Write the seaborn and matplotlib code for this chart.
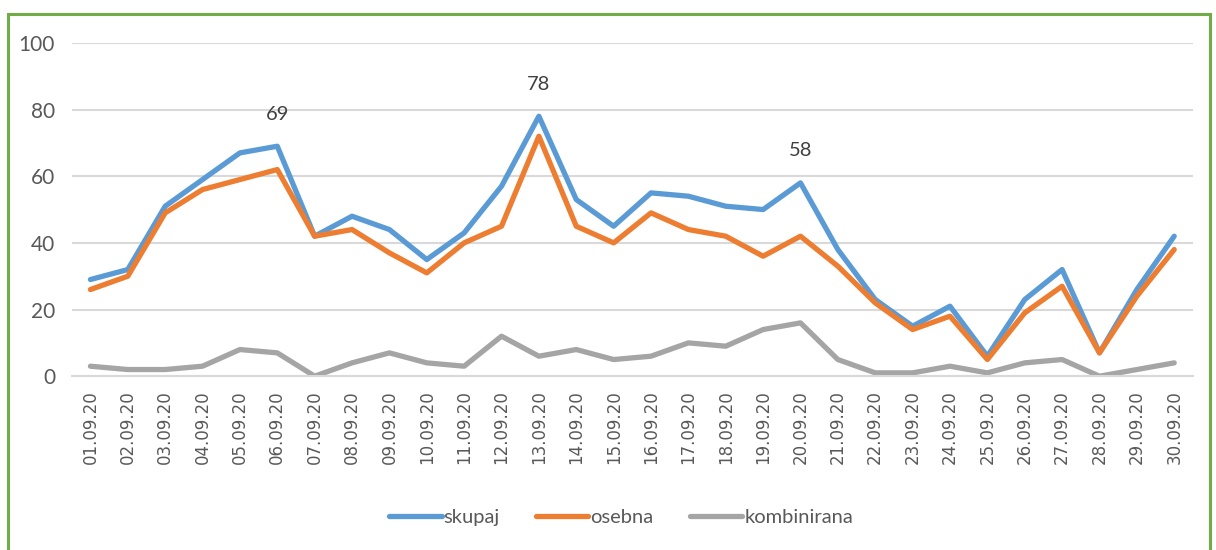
import matplotlib.pyplot as plt
import seaborn as sns
import pandas as pd
import numpy as np
from matplotlib.patches import Rectangle

# values (September 2020)
dates = [f"{d:02d}.09.20" for d in range(1, 31)]
skupaj = [29, 32, 51, 59, 67, 69, 42, 48, 44, 35, 43, 57, 78, 53, 45,
          55, 54, 51, 50, 58, 38, 23, 15, 21, 6, 23, 32, 7, 26, 42]
osebna = [26, 30, 49, 56, 59, 62, 42, 44, 37, 31, 40, 45, 72, 45, 40,
          49, 44, 42, 36, 42, 33, 22, 14, 18, 5, 19, 27, 7, 24, 38]
kombinirana = [3, 2, 2, 3, 8, 7, 0, 4, 7, 4, 3, 12, 6, 8, 5,
               6, 10, 9, 14, 16, 5, 1, 1, 3, 1, 4, 5, 0, 2, 4]
labelled = ["06.09.20", "13.09.20", "20.09.20"]

series = {"skupaj": skupaj, "osebna": osebna, "kombinirana": kombinirana}
colors = {"skupaj": "#5B9BD5", "osebna": "#ED7D31", "kombinirana": "#A5A5A5"}

df = pd.DataFrame({"datum": dates, **series})
long_df = df.melt(id_vars="datum", var_name="vrsta", value_name="stevilo")

sns.set_style("white")
plt.rcParams["font.family"] = ["Lato", "DejaVu Sans"]

fig = plt.figure(figsize=(12.16, 5.5), dpi=100)
ax = fig.add_axes([0.059, 0.316, 0.922, 0.606])

sns.lineplot(data=long_df, x="datum", y="stevilo", hue="vrsta",
             palette=colors, linewidth=3.8, sort=False, ax=ax, legend=True)

ax.set_xlim(-0.5, len(dates) - 0.5)
ax.set_ylim(0, 100)
ax.set_yticks(range(0, 101, 20))
ax.yaxis.grid(True, color="#D9D9D9", linewidth=1.5)
ax.set_axisbelow(True)
for s in ["left", "right", "top"]:
    ax.spines[s].set_visible(False)
ax.spines["bottom"].set_color("#D9D9D9")
ax.spines["bottom"].set_linewidth(1.5)
ax.set_xlabel("")
ax.set_ylabel("")

ax.set_xticks(range(len(dates)))
ax.set_xticklabels(dates, rotation=90, fontsize=12, color="#595959",
                   family="DejaVu Sans")
ax.set_xticks(np.arange(len(dates) + 1) - 0.5, minor=True)
ax.tick_params(axis="x", which="major", length=0, pad=10)
ax.tick_params(axis="x", which="minor", length=7, width=1.2, color="#D9D9D9")
ax.tick_params(axis="y", length=0, labelsize=15, labelcolor="#595959", pad=12)

# data labels on the peaks of skupaj
for d in labelled:
    i = dates.index(d)
    ax.annotate(str(skupaj[i]), (i, skupaj[i]), xytext=(0, 23),
                textcoords="offset points", ha="center", va="center",
                fontsize=14.5, color="#404040")

handles, labels = ax.get_legend_handles_labels()
leg = ax.legend(handles, labels, loc="center", bbox_to_anchor=(0.49, -0.423),
                ncol=3, frameon=False, fontsize=14.5, handlelength=2.6,
                handletextpad=0.1, columnspacing=1.8)
for t in leg.get_texts():
    t.set_color("#595959")

# green frame around the chart
fig.patches.append(Rectangle((8 / 1216, -0.1), 1202 / 1216, 1 + 0.1 - 14 / 550,
                             transform=fig.transFigure, fill=False,
                             edgecolor="#70AD47", linewidth=2.2, clip_on=False))

fig.savefig("out.png", dpi=100)
